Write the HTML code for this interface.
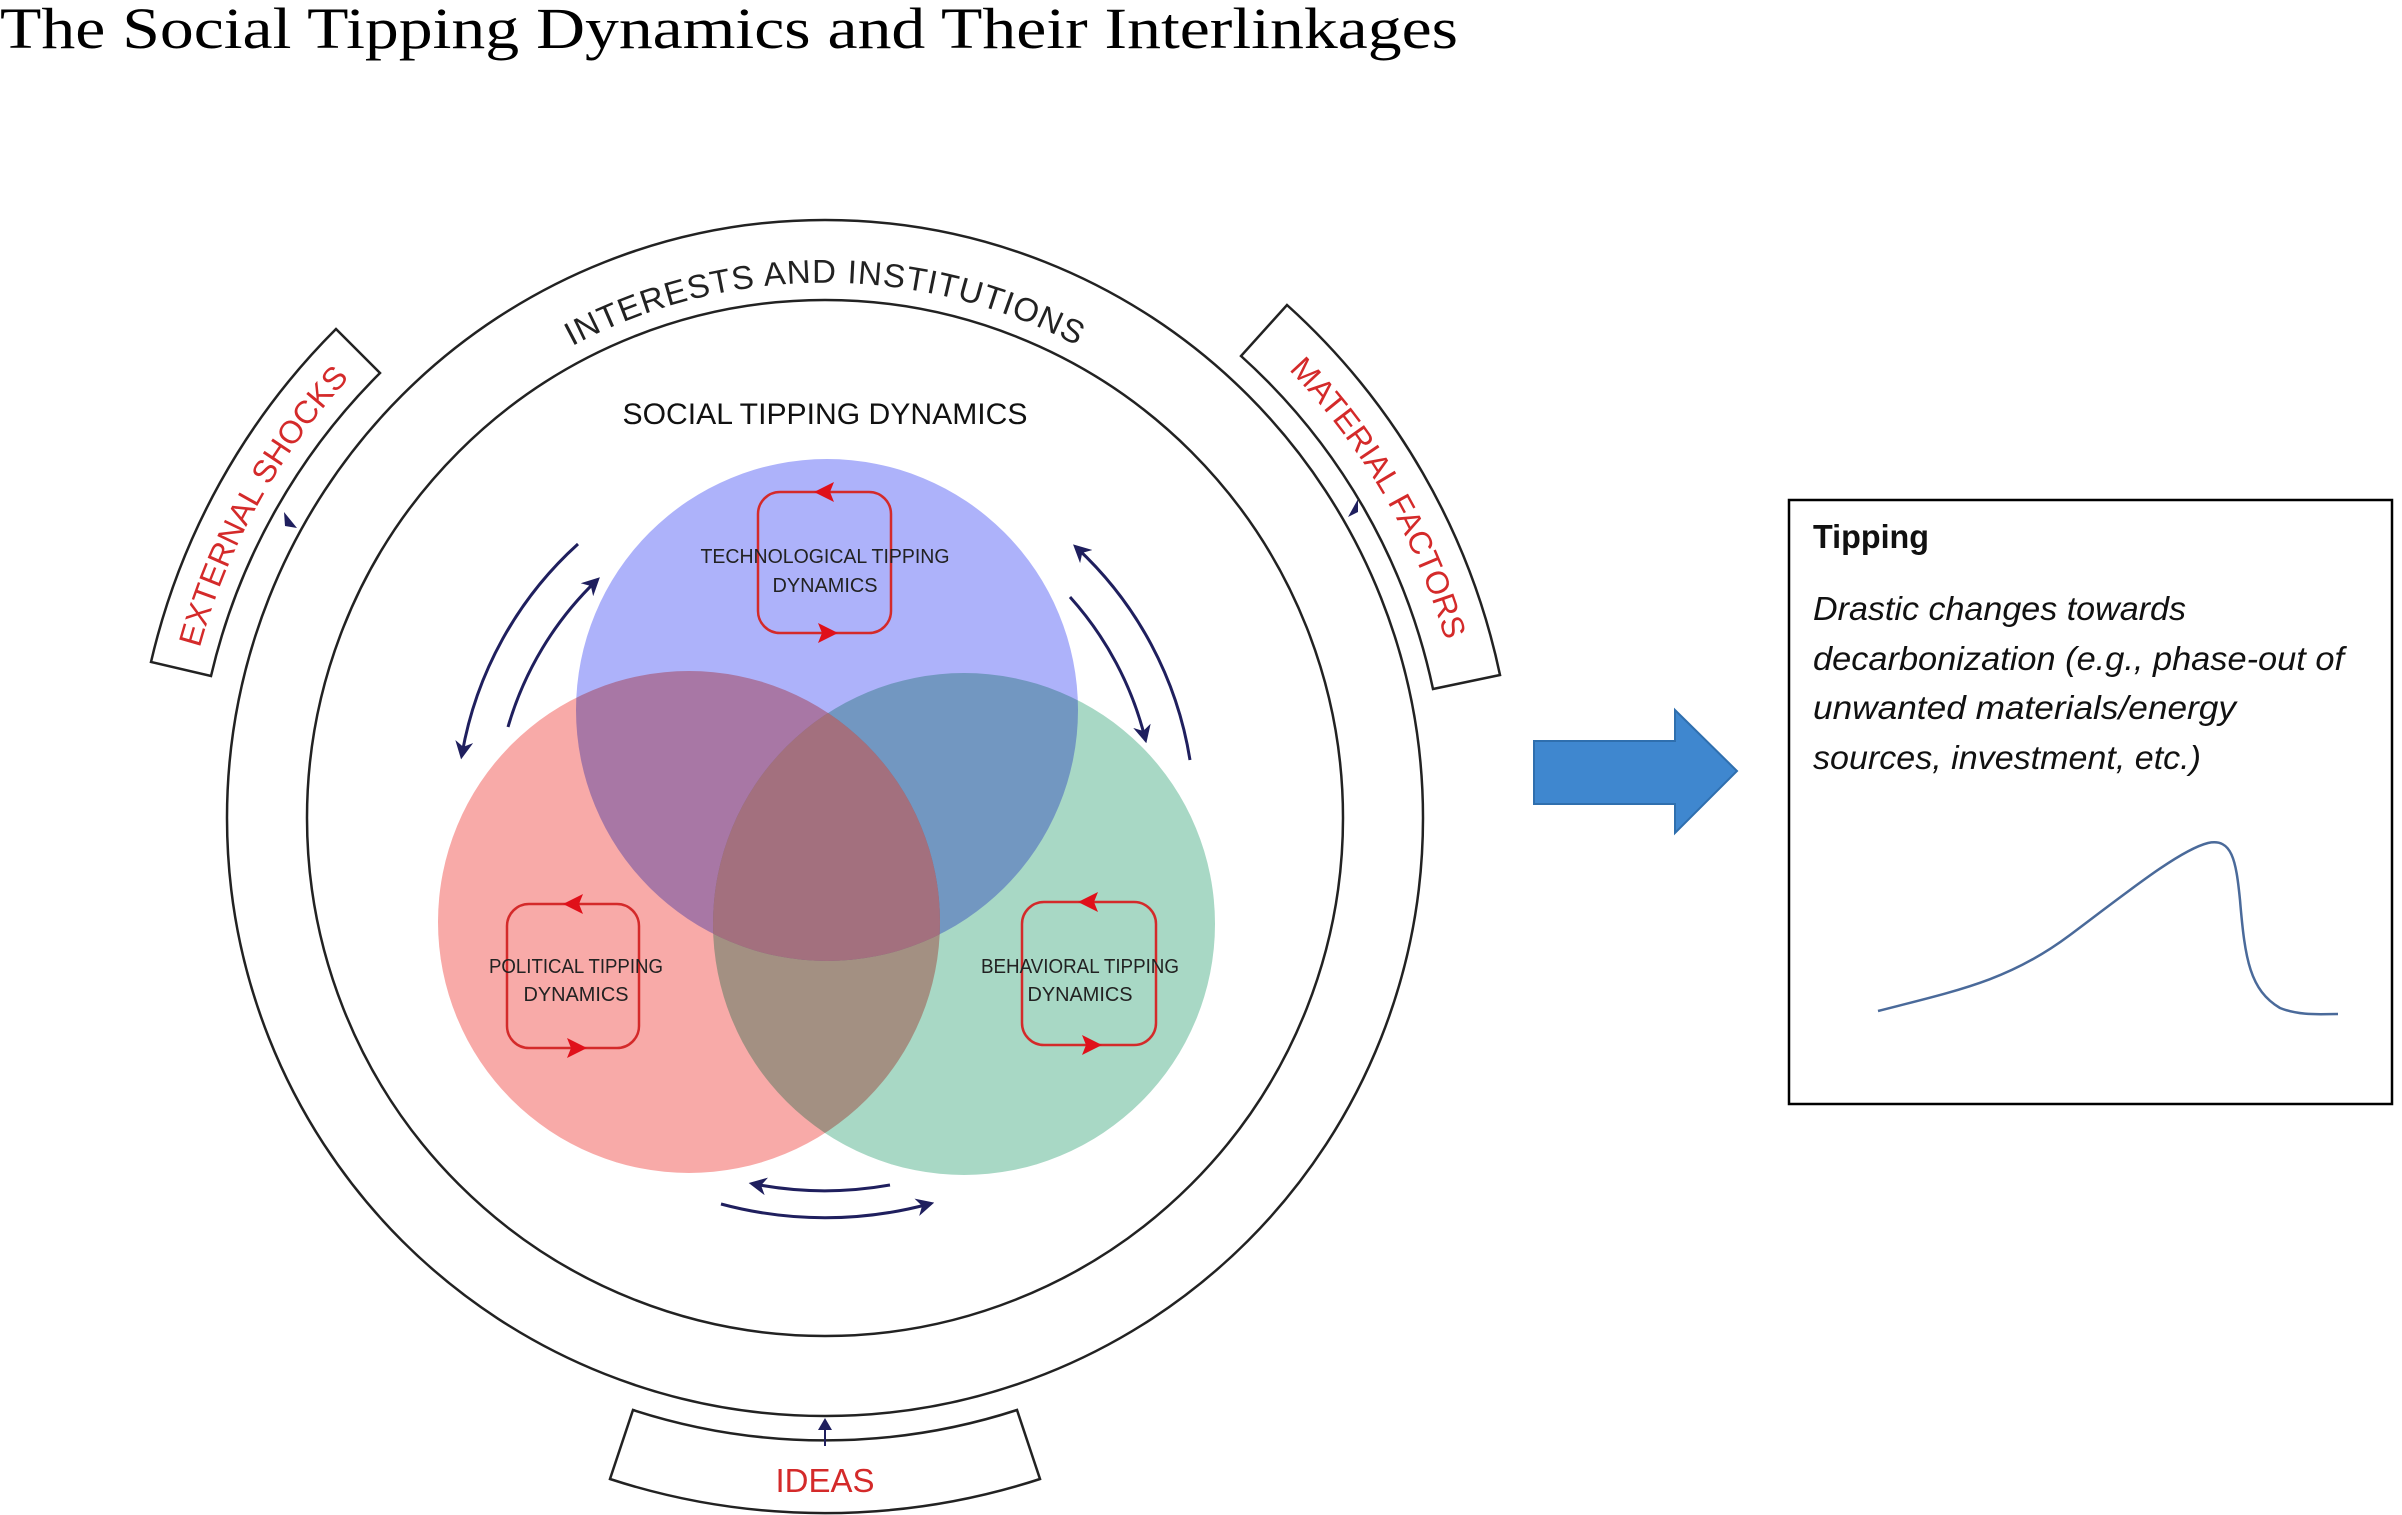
<!DOCTYPE html>
<html><head><meta charset="utf-8"><style>
html,body{margin:0;padding:0;background:#fff;}
svg{display:block;}
.b{mix-blend-mode:multiply;}
</style></head><body>
<svg width="2402" height="1515" viewBox="0 0 2402 1515" xmlns="http://www.w3.org/2000/svg">
<defs>
<marker id="ab" viewBox="0 0 10 10" refX="7" refY="5" markerWidth="6" markerHeight="6" orient="auto" markerUnits="strokeWidth">
<path d="M0,0 L10,5 L0,10 L3,5 Z" fill="#1f1f5e"/></marker>
<clipPath id="cp"><circle cx="689" cy="922" r="251"/></clipPath>
<clipPath id="cg"><circle cx="964" cy="924" r="251"/></clipPath>
</defs>
<rect width="2402" height="1515" fill="#fff"/>
<text x="0" y="48" font-family="Liberation Serif, serif" font-size="58" textLength="1458" lengthAdjust="spacingAndGlyphs" fill="#000">The Social Tipping Dynamics and Their Interlinkages</text>

<circle cx="825" cy="818" r="598" fill="none" stroke="#222" stroke-width="2.5"/>
<circle cx="825" cy="818" r="518" fill="none" stroke="#222" stroke-width="2.5"/>
<path id="tp" d="M415,474 A535 535 0 0 1 1235,474" fill="none"/>
<text font-family="Liberation Sans, sans-serif" font-size="33" fill="#222" letter-spacing="1"><textPath href="#tp" startOffset="50%" text-anchor="middle">INTERESTS AND INSTITUTIONS</textPath></text>

<path d="M211,676 A630 630 0 0 1 380,373 L336,329 A692 692 0 0 0 151,662 Z" fill="#fff" stroke="#222" stroke-width="2.5"/>
<path id="es" d="M187,705 A648 648 0 0 1 391,337" fill="none"/>
<text font-family="Liberation Sans, sans-serif" font-size="32" fill="#d42a2a"><textPath href="#es" startOffset="50%" text-anchor="middle">EXTERNAL SHOCKS</textPath></text>
<path d="M1241,356 A622 622 0 0 1 1433,689 L1500,675 A690 690 0 0 0 1287,305 Z" fill="#fff" stroke="#222" stroke-width="2.5"/>
<path id="mf" d="M1222,310 A645 645 0 0 1 1464,728" fill="none"/>
<text font-family="Liberation Sans, sans-serif" font-size="32" fill="#d42a2a"><textPath href="#mf" startOffset="50%" text-anchor="middle">MATERIAL FACTORS</textPath></text>
<path d="M633,1410 A622 622 0 0 0 1017,1410 L1040,1479 A695 695 0 0 1 610,1479 Z" fill="#fff" stroke="#222" stroke-width="2.5"/>
<text x="825" y="1492" text-anchor="middle" font-family="Liberation Sans, sans-serif" font-size="33" fill="#d42a2a">IDEAS</text>
<path d="M825,1446 L825,1424" stroke="#1f1f5e" stroke-width="2"/>
<path d="M818,1430 L825,1418 L832,1430 Z" fill="#1f1f5e"/>
<path d="M284,512 L297,528 L285,526 Z" fill="#1f1f5e"/>
<path d="M1358,499 L1348,517 L1358,512 Z" fill="#1f1f5e"/>

<text x="825" y="424" text-anchor="middle" font-family="Liberation Sans, sans-serif" font-size="30" textLength="405" lengthAdjust="spacingAndGlyphs" fill="#111">SOCIAL TIPPING DYNAMICS</text>

<g>
<circle class="b" cx="827" cy="710" r="251" fill="#adb2fa"/>
<circle class="b" cx="689" cy="922" r="251" fill="#f8aaa8"/>
<circle class="b" cx="964" cy="924" r="251" fill="#a8d8c5"/>
<g clip-path="url(#cp)"><g clip-path="url(#cg)"><circle cx="827" cy="710" r="251" fill="#a3707e"/></g></g>
</g>

<g fill="none" stroke="#1f1f5e" stroke-width="3">
<path d="M578,544 A369 369 0 0 0 462,754" marker-end="url(#ab)"/>
<path d="M508,727 A330 330 0 0 1 596,581" marker-end="url(#ab)"/>
<path d="M1190,760 A369 369 0 0 0 1077,548" marker-end="url(#ab)"/>
<path d="M1070,597 A330 330 0 0 1 1145,738" marker-end="url(#ab)"/>
<path d="M890,1185 A373 373 0 0 1 754,1184" marker-end="url(#ab)"/>
<path d="M721,1204 A400 400 0 0 0 929,1204" marker-end="url(#ab)"/>
</g>

<g fill="none" stroke="#d42a2a" stroke-width="2.5">
<rect x="758" y="492" width="133" height="141" rx="22"/>
<rect x="507" y="904" width="132" height="144" rx="22"/>
<rect x="1022" y="902" width="134" height="143" rx="22"/>
</g>
<g fill="#e0101a">
<path d="M814,492 L834,482 L830,492 L834,502 Z"/>
<path d="M838,633 L818,623 L822,633 L818,643 Z"/>
<path d="M563,904 L583,894 L579,904 L583,914 Z"/>
<path d="M587,1048 L567,1038 L571,1048 L567,1058 Z"/>
<path d="M1078,902 L1098,892 L1094,902 L1098,912 Z"/>
<path d="M1102,1045 L1082,1035 L1086,1045 L1082,1055 Z"/>
</g>
<g font-family="Liberation Sans, sans-serif" font-size="20" fill="#222" text-anchor="middle">
<text x="825" y="563" textLength="249" lengthAdjust="spacingAndGlyphs">TECHNOLOGICAL TIPPING</text>
<text x="825" y="592" textLength="105" lengthAdjust="spacingAndGlyphs">DYNAMICS</text>
<text x="576" y="973" textLength="174" lengthAdjust="spacingAndGlyphs">POLITICAL TIPPING</text>
<text x="576" y="1001" textLength="105" lengthAdjust="spacingAndGlyphs">DYNAMICS</text>
<text x="1080" y="973" textLength="198" lengthAdjust="spacingAndGlyphs">BEHAVIORAL TIPPING</text>
<text x="1080" y="1001" textLength="105" lengthAdjust="spacingAndGlyphs">DYNAMICS</text>
</g>

<path d="M1534,741 L1675,741 L1675,710 L1737,771 L1675,833 L1675,804 L1534,804 Z" fill="#3f87cf" stroke="#2f6fae" stroke-width="2"/>

<rect x="1789" y="500" width="603" height="604" fill="#fff" stroke="#000" stroke-width="2.5"/>
<text x="1813" y="548" font-family="Liberation Sans, sans-serif" font-weight="bold" font-size="33" textLength="116" lengthAdjust="spacingAndGlyphs" fill="#111">Tipping</text>
<g font-family="Liberation Sans, sans-serif" font-style="italic" font-size="33" fill="#111">
<text x="1813" y="620" textLength="373" lengthAdjust="spacingAndGlyphs">Drastic changes towards</text>
<text x="1813" y="670" textLength="531" lengthAdjust="spacingAndGlyphs">decarbonization (e.g., phase-out of</text>
<text x="1813" y="719" textLength="423" lengthAdjust="spacingAndGlyphs">unwanted materials/energy</text>
<text x="1813" y="769" textLength="388" lengthAdjust="spacingAndGlyphs">sources, investment, etc.)</text>
</g>
<path d="M1878,1011 C1960,990 2010,980 2070,935 C2130,890 2180,850 2208,843 C2232,838 2236,860 2240,900 C2245,960 2250,990 2280,1008 C2300,1016 2320,1014 2338,1014" fill="none" stroke="#4a6a9a" stroke-width="2.5"/>
</svg>
</body></html>
